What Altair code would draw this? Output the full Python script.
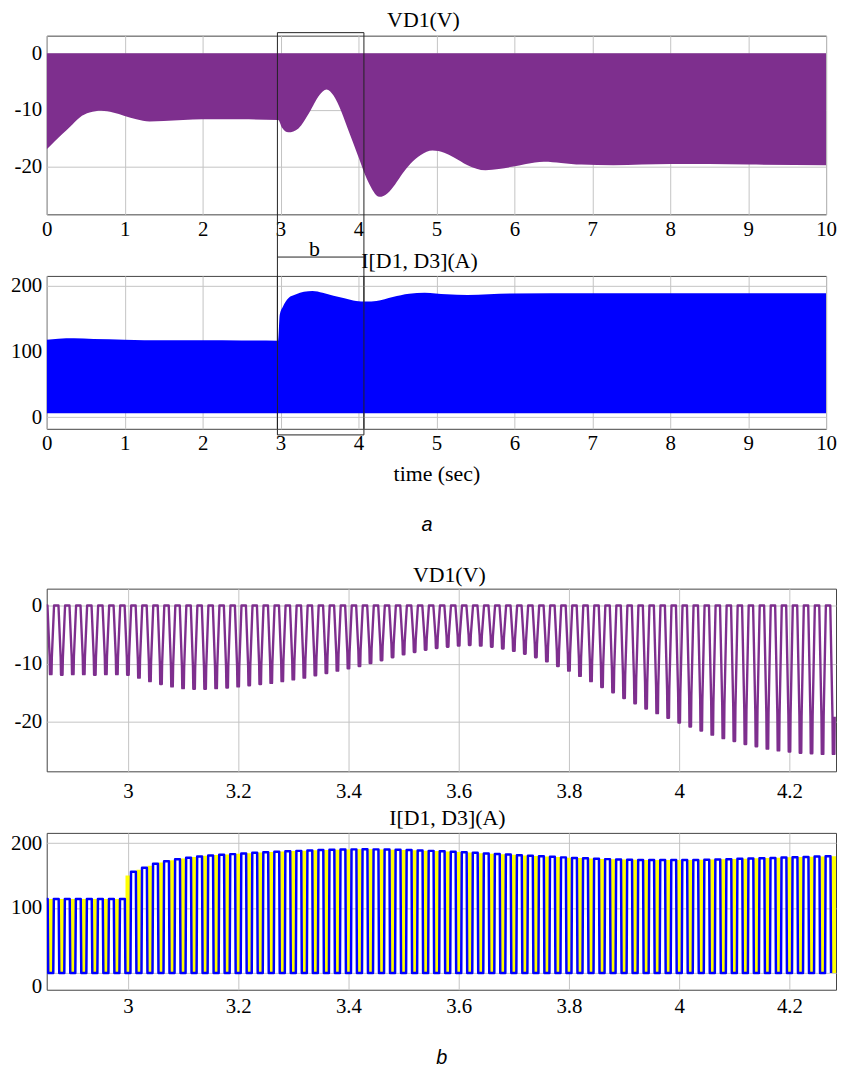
import altair as alt
import pandas as pd

PURPLE = "#7E2F8E"
BLUE = "#0000FF"
YELLOW = "#FFFF00"
FRAME = "#444444"
GRID = "#c4c4c4"
BOXC = "#222222"
SERIF = "Liberation Serif"
SANS = "Liberation Sans"

# ---------------- panel a : envelopes ----------------
vd1_env_t = [0.00, 0.10, 0.20, 0.30, 0.42, 0.55, 0.70, 0.85, 1.00, 1.15, 1.32, 1.50,
             1.75, 2.00, 2.50, 2.97, 3.02, 3.10, 3.23, 3.37, 3.50, 3.59, 3.68, 3.78,
             3.88, 3.99, 4.12, 4.27, 4.37, 4.47, 4.57, 4.67, 4.80, 4.95, 5.10, 5.22,
             5.40, 5.63, 5.80, 5.97, 6.15, 6.38, 6.60, 6.86, 7.27, 8.00, 8.50, 9.00, 10.00]
vd1_env_v = [-17.0, -15.6, -14.3, -13.0, -11.4, -10.5, -10.2, -10.5, -11.1, -11.7, -12.1, -12.0,
             -11.8, -11.7, -11.7, -11.8, -13.2, -14.0, -13.3, -10.5, -7.4, -6.4, -7.5, -10.3,
             -14.0, -18.0, -22.6, -25.4, -24.8, -23.2, -21.2, -19.5, -18.0, -17.2, -17.6, -18.4,
             -19.8, -20.7, -20.5, -20.1, -19.6, -19.2, -19.4, -19.7, -19.8, -19.6, -19.6, -19.7, -19.8]

cur_env_t = [0.00, 0.15, 0.35, 0.60, 1.00, 1.50, 2.00, 2.50, 2.97, 2.99, 3.03, 3.10,
             3.20, 3.30, 3.41, 3.54, 3.68, 3.82, 3.97, 4.10, 4.23, 4.44, 4.65, 4.85,
             5.13, 5.40, 5.95, 7.00, 8.00, 9.00, 10.00]
cur_env_v = [118, 119.5, 120, 119, 118, 117, 117, 116.8, 116.5, 156, 168, 181,
             187, 191, 192, 189.4, 185, 181, 177, 176, 177, 183, 188, 189.4,
             187, 186, 188.4, 188.5, 188.8, 188.6, 188.5]
CUR_BASE = 6

# ---------------- panel b : one value per 50 Hz cycle ----------------
PERIOD = 0.02
FIRST_CENTER = 2.85   # centre of first D1 conduction pulse

vd1_trough = [-11.8, -11.9, -11.8, -11.8, -11.9, -11.8, -11.8, -11.9,
              -12.4, -13.0, -13.5, -13.9, -14.2, -14.3, -14.3, -14.2, -14.1, -13.9,
              -13.7, -13.5, -13.3, -13.0, -12.7, -12.4, -12.0, -11.6, -11.2, -10.8,
              -10.4, -9.9, -9.4, -8.9, -8.4, -8.0, -7.6, -7.3, -7.1, -6.9, -6.8,
              -6.9, -7.1, -7.4, -7.8, -8.3, -8.9, -9.6, -10.4, -11.2, -12.1, -13.0,
              -14.0, -14.9, -15.9, -16.8, -17.7, -18.5, -19.3, -20.1, -20.8, -21.5,
              -22.2, -22.8, -23.3, -23.8, -24.2, -24.6, -24.9, -25.1, -25.3, -25.4,
              -25.5, -25.5]

d1_peak = [114, 114, 114, 114, 114, 114, 114, 114,
           156, 162, 168, 172, 175, 177.5, 179.5, 181, 182, 183, 184, 185, 186,
           186.8, 187.5, 188, 188.6, 189.2, 189.6, 190, 190.3, 190.4, 190.3, 190,
           189.6, 189.2, 188.6, 188, 187.3, 186.6, 185.8, 185, 184, 183.2, 182.3,
           181.4, 180.5, 179.6, 178.8, 178, 177.2, 176.5, 175.9, 175.3, 174.8,
           174.4, 174.1, 173.9, 173.8, 173.8, 173.9, 174.1, 174.4, 174.8, 175.2,
           175.7, 176.2, 176.7, 177.2, 177.7, 178.2, 178.7, 179.2, 179.6]

d3_peak = [114, 114, 114, 114, 114, 114, 114,
           150, 159, 165, 170, 173.5, 176.3, 178.5, 180.3, 181.5, 182.5, 183.5,
           184.5, 185.5, 186.4, 187.2, 187.8, 188.3, 188.9, 189.4, 189.8, 190.2,
           190.4, 190.4, 190.2, 189.8, 189.4, 188.9, 188.3, 187.7, 187, 186.2,
           185.4, 184.5, 183.6, 182.8, 181.9, 181, 180, 179.2, 178.4, 177.6, 176.9,
           176.2, 175.6, 175, 174.6, 174.2, 174, 173.8, 173.8, 173.8, 174, 174.2,
           174.6, 175, 175.5, 176, 176.5, 177, 177.5, 178, 178.5, 179, 179.4,
           179.8]

# ---------------- annotation: zoom box "b" (panel-1 data units) ----------------
BOX_T = [2.96, 4.07]
BOX_V = [3.63, -67.5]
B_LINE_V = -36.05
B_LABEL = "b"
B_LABEL_T = 3.435
B_LABEL_V = -34.6

# ---------------- scales / axes ----------------
W_A, W_B = 785, 795
X_A = alt.Scale(domain=[0, 10], nice=False, zero=False)
X_B = alt.Scale(domain=[2.8527, 4.2844], nice=False, zero=False)
Y1 = alt.Scale(domain=[-28.5, 3.1], nice=False, zero=False)
Y2 = alt.Scale(domain=[-17.6, 215], nice=False, zero=False)
Y3 = alt.Scale(domain=[-28.5, 2.9], nice=False, zero=False)
Y4 = alt.Scale(domain=[-25.8, 215.7], nice=False, zero=False)

common_axis = dict(ticks=False, tickSize=0, domain=False, grid=True, gridColor=GRID,
                   gridWidth=1, labelFont=SERIF, labelFontSize=21, labelColor="black",
                   labelFlush=False)

def xaxis(values, fmt, pad=4, **kw):
    if "title" not in kw:
        kw["title"] = None
    return alt.Axis(values=values, format=fmt, labelPadding=pad, **common_axis, **kw)

def yaxis(values, zero_shift=0):
    kw = {}
    if zero_shift:
        kw["labelOffset"] = {"condition": {"test": "datum.value === 0", "value": zero_shift},
                             "value": 0}
    return alt.Axis(values=values, title=None, labelPadding=5,
                    labelExpr="datum.value < 0 ? '-' + format(-datum.value, 'd') : format(datum.value, 'd')",
                    **common_axis, **kw)

XA_VALS = list(range(11))
XB_VALS = [3, 3.2, 3.4, 3.6, 3.8, 4, 4.2]

def title(text, dx, offset):
    return alt.Title(text, font=SERIF, fontSize=22, fontWeight="normal", color="black",
                     offset=offset, dx=dx)

# ---------------- panel 1 ----------------
vd1_env = pd.DataFrame({"t": vd1_env_t, "v": vd1_env_v})
p1_area = alt.Chart(vd1_env).mark_area(color=PURPLE, clip=True, interpolate="monotone").encode(
    x=alt.X("t:Q", scale=X_A, axis=xaxis(XA_VALS, "d")),
    y=alt.Y("v:Q", scale=Y1, axis=yaxis([-20, -10, 0])),
    y2=alt.datum(0),
)
box_df = pd.DataFrame({"t1": [BOX_T[0]], "t2": [BOX_T[1]], "v1": [BOX_V[0]], "v2": [BOX_V[1]],
                       "vl": [B_LINE_V], "tl": [B_LABEL_T], "vb": [B_LABEL_V], "lab": [B_LABEL]})
p1_box = alt.Chart(box_df).mark_rect(fillOpacity=0, stroke=BOXC, strokeWidth=1).encode(
    x=alt.X("t1:Q", scale=X_A), x2="t2:Q",
    y=alt.Y("v1:Q", scale=Y1), y2="v2:Q",
)
p1_line = alt.Chart(box_df).mark_rule(color=BOXC, strokeWidth=1).encode(
    x=alt.X("t1:Q", scale=X_A), x2="t2:Q",
    y=alt.Y("vl:Q", scale=Y1),
)
p1_text = alt.Chart(box_df).mark_text(font=SERIF, fontSize=22, color="black",
                                      baseline="middle").encode(
    x=alt.X("tl:Q", scale=X_A), y=alt.Y("vb:Q", scale=Y1), text="lab:N",
)
p1 = alt.layer(p1_area, p1_box, p1_line, p1_text).properties(
    width=W_A, height=180, title=title("VD1(V)", -13, 0))

# ---------------- panel 2 ----------------
cur_env = pd.DataFrame({"t": cur_env_t, "hi": cur_env_v, "lo": [CUR_BASE] * len(cur_env_v)})
p2_area = alt.Chart(cur_env).mark_area(color=BLUE, clip=True, interpolate="monotone").encode(
    x=alt.X("t:Q", scale=X_A,
            axis=xaxis(XA_VALS, "d", title="time (sec)", titleFont=SERIF, titleFontSize=22,
                       titleFontWeight="normal", titleColor="black", titlePadding=10)),
    y=alt.Y("hi:Q", scale=Y2, axis=yaxis([0, 100, 200])),
    y2="lo:Q",
)
edge_df = pd.DataFrame({"t": BOX_T, "top": [215, 215], "bot": [-17.6, -17.6]})
p2_edges = alt.Chart(edge_df).mark_rule(color=BOXC, strokeWidth=1).encode(
    x=alt.X("t:Q", scale=X_A),
    y=alt.Y("top:Q", scale=Y2), y2="bot:Q",
)
p2 = alt.layer(p2_area, p2_edges).properties(
    width=W_A, height=154, title=title("I[D1, D3](A)", -17, 2))

# ---------------- spacer holding the "a" label ----------------
spacer = alt.Chart(pd.DataFrame({"lab": ["a"]})).mark_text(
    font=SANS, fontStyle="italic", fontSize=20, color="black", baseline="middle").encode(
    text="lab:N", x=alt.value(383), y=alt.value(35),
).properties(width=W_A, height=37, view=alt.ViewBackground(stroke="transparent"))

# ---------------- panel 3 : VD1 cycles ----------------
T = PERIOD
rows = []
n = 0
for k, v in enumerate(vd1_trough):
    c = FIRST_CENTER + k * T
    shape = [(-0.2, 0.0), (0.2, 0.0), (0.40, 0.75 * v), (0.43, v), (0.57, v), (0.60, 0.75 * v)]
    for dt, val in shape:
        rows.append({"t": c + dt * T, "v": val, "o": n})
        n += 1
vd1_wave = pd.DataFrame(rows)
p3 = alt.Chart(vd1_wave).mark_line(color=PURPLE, strokeWidth=2.4, clip=True,
                                    strokeJoin="round").encode(
    x=alt.X("t:Q", scale=X_B, axis=xaxis(XB_VALS, "~r", pad=9)),
    y=alt.Y("v:Q", scale=Y3, axis=yaxis([-20, -10, 0])),
    order="o:Q",
).properties(width=W_B, height=184, title=title("VD1(V)", 8, 2))

# ---------------- panel 4 : D1 / D3 current cycles ----------------
brows = []
n = 0
for k, b in enumerate(d1_peak):
    c = FIRST_CENTER + k * T
    for dt, val in [(-0.27, 0.0), (-0.22, b), (0.22, b), (0.27, 0.0)]:
        brows.append({"t": c + dt * T, "i": val, "o": n})
        n += 1
d1_wave = pd.DataFrame(brows)
yrows = []
for k, y in enumerate(d3_peak):
    d = FIRST_CENTER + (k + 0.5) * T
    yrows.append({"t1": d - 0.22 * T, "t2": d + 0.22 * T, "lo": 0.0, "hi": y})
d3_pulses = pd.DataFrame(yrows)

p4_y = alt.Chart(d3_pulses).mark_rect(color=YELLOW, clip=True).encode(
    x=alt.X("t1:Q", scale=X_B,
            axis=xaxis(XB_VALS, "~r", pad=6, title="b", titleFont=SANS,
                       titleFontStyle="italic", titleFontSize=20, titleFontWeight="normal",
                       titleColor="black", titlePadding=31)),
    x2="t2:Q",
    y=alt.Y("lo:Q", scale=Y4, axis=yaxis([0, 100, 200], zero_shift=14)),
    y2="hi:Q",
)
p4_b = alt.Chart(d1_wave).mark_line(color=BLUE, strokeWidth=2.5, clip=True,
                                     strokeJoin="round").encode(
    x=alt.X("t:Q", scale=X_B),
    y=alt.Y("i:Q", scale=Y4),
    order="o:Q",
)
p4 = alt.layer(p4_y, p4_b).properties(width=W_B, height=158,
                                      title=title("I[D1, D3](A)", 6, 2))

chart = alt.vconcat(p1, p2, spacer, p3, p4, spacing=62, bounds="flush").properties(
    padding={"left": 2, "top": -4, "right": 0, "bottom": 0},
    background="white",
).configure_view(stroke=FRAME, strokeWidth=1)

chart.save("out.html", embed_options={"renderer": "svg", "actions": False})
